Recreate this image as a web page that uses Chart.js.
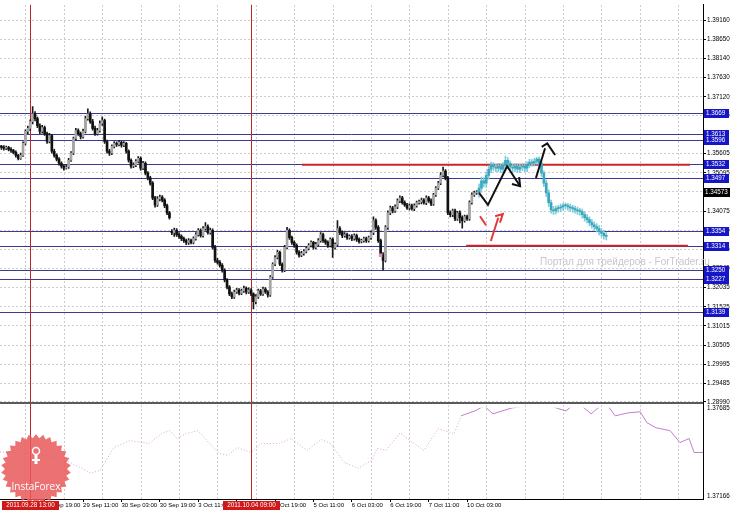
<!DOCTYPE html>
<html>
<head>
<meta charset="utf-8">
<script src="https://cdn.jsdelivr.net/npm/chart.js@4.4.0/dist/chart.umd.min.js"></script>
<style>
  html, body { margin: 0; padding: 0; background: #fff; }
  canvas { display: block; }
</style>
</head>
<body>
<canvas id="grafico" width="730" height="510"></canvas>
<script>
// EURUSD H1 - prices written as pips above 1.3000
const BASE = 1.3;

const opens = [
  583,580,577,575,577,572,569,564,556,548, 556,588,620,628,646,667,654,635,620,630,
  614,593,609,567,556,546,535,527,522,525, 543,562,601,622,614,606,620,654,667,646,
  628,614,622,641,649,593,567,562,580,588, 585,591,583,588,567,543,527,530,540,548,
  522,535,509,496,482,443,424,440,445,437, 422,403,352,350,356,345,340,334,329,324,
  329,324,334,345,356,342,361,366,350,356, 311,276,271,263,250,224,205,187,179,192,
  197,189,195,202,192,197,187,166,179,195, 187,200,192,184,232,266,284,298,266,250,
  311,356,337,324,316,298,290,295,300,308, 316,324,311,319,329,345,329,324,316,332,
  311,319,361,350,342,345,337,340,334,342, 332,327,329,334,329,337,350,382,364,329,
  292,276,364,403,416,408,419,435,443,430, 424,416,422,414,422,430,432,437,430,443,
  435,427,451,469,482,503,514,496,403,398, 408,387,403,390,382,393,387,430,451,456
];
const highs = [
  587,583,582,581,580,577,572,568,559,562, 592,624,634,651,686,673,658,640,636,634,
  618,615,612,572,560,550,539,531,531,548, 566,605,628,627,618,626,660,680,672,652,
  634,628,648,659,653,597,572,584,593,592, 596,595,593,591,571,547,536,545,553,552,
  540,539,513,500,486,447,446,450,449,441, 426,407,358,362,361,350,344,338,333,334,
  333,339,350,361,360,366,377,371,362,360, 316,282,276,268,254,228,209,192,197,202,
  201,200,208,206,203,201,190,185,200,199, 205,204,196,236,270,289,303,301,270,316,
  364,360,341,328,320,302,300,305,312,321, 328,327,324,334,350,349,333,328,336,336,
  323,382,366,355,350,349,344,345,347,346, 336,333,338,338,341,355,392,387,369,333,
  297,369,408,421,420,424,440,448,447,435, 428,427,426,427,434,437,442,441,448,447,
  440,455,473,487,510,525,518,500,408,413, 413,407,408,395,397,397,435,456,461,462
];
const lows = [
  576,572,570,571,568,564,560,551,544,545, 553,584,614,622,640,648,630,614,615,609,
  588,589,562,551,541,530,522,517,519,521, 540,558,597,609,600,602,616,650,641,623,
  609,610,618,636,588,562,556,558,576,580, 581,578,579,562,538,522,523,526,536,517,
  518,504,491,477,438,418,420,435,432,417, 398,386,345,340,340,335,329,324,318,319,
  320,320,330,341,338,338,357,346,346,306, 271,266,258,245,219,200,182,174,175,188,
  184,185,191,187,188,182,147,160,175,183, 183,188,178,180,228,262,280,262,245,246,
  307,332,319,311,293,285,286,290,296,304, 312,306,307,315,325,324,319,311,312,284,
  306,315,345,337,338,332,333,329,330,327, 322,323,325,324,325,332,345,359,324,287,
  250,272,359,398,403,404,414,430,426,420, 412,411,410,409,418,426,427,426,425,431,
  422,423,447,465,478,499,491,398,392,393, 382,383,376,362,378,383,383,426,447,452
];
const closes = [
  580,577,575,577,572,569,564,556,548,556, 588,620,628,646,667,654,635,620,630,614,
  593,609,567,556,546,535,527,522,525,543, 562,601,622,614,606,620,654,667,646,628,
  614,622,641,649,593,567,562,580,588,585, 591,583,588,567,543,527,530,540,548,522,
  535,509,496,482,443,424,440,445,437,422, 403,390,350,356,345,340,334,329,324,329,
  324,334,345,356,342,361,366,350,356,311, 276,271,263,250,224,205,187,179,192,197,
  189,195,202,192,197,187,166,179,195,187, 200,192,184,232,266,284,298,266,250,311,
  356,337,324,316,298,290,295,300,308,316, 324,311,319,329,345,329,324,316,332,311,
  319,361,350,342,345,337,340,334,342,332, 327,329,334,329,337,350,382,364,329,292,
  276,364,403,416,408,419,435,443,430,424, 416,422,414,422,430,432,437,430,443,435,
  427,451,469,482,503,514,496,403,398,408, 387,403,390,382,393,387,430,451,456,457
];

// forecast bars (cyan), they follow the last real bar
const fcOpens = [
  457,469,488,482,503,519,530,525,522,527, 519,530,543,535,525,522,527,519,525,527,
  522,532,538,535,540,546,535,509,482,456, 430,411,408,414,416,419,422,422,419,416,
  414,411,408,406,398,390,385,377,371,366, 361,353,348,342
];
const fcHighs = [
  480,498,497,512,528,538,537,532,535,534, 537,554,550,541,532,534,533,532,534,533,
  539,546,545,548,551,552,541,515,490,464, 437,420,421,423,426,428,429,428,426,423,
  421,418,415,413,405,398,392,385,379,374, 369,361,356,350
];
const fcLows = [
  445,458,472,471,493,510,516,513,513,510, 510,521,526,516,513,513,510,510,516,513,
  513,524,527,527,532,526,500,473,446,420, 402,399,400,405,407,410,413,410,407,405,
  402,399,397,389,381,376,368,362,357,352, 344,339,333,331
];
const fcCloses = [
  469,488,482,503,519,530,525,522,527,519, 530,543,535,525,522,527,519,525,527,522,
  532,538,535,540,546,535,509,482,456,430, 411,408,414,416,419,422,422,419,416,414,
  411,408,406,398,390,385,377,371,366,361, 353,348,342,340
];

// support / resistance levels
const levels = [1.3669, 1.3613, 1.3596, 1.3532, 1.3497, 1.3354, 1.3314, 1.3250, 1.3227, 1.3139];
const levelLabels = ['1.3669', '1.3613', '1.3596', '1.3532', '1.3497', '1.3354', '1.3314', '1.3250', '1.3227', '1.3139'];
const lastPrice = 1.34573;
const lastPriceLabel = '1.34573';

// red horizontal lines (bar index from / to, price)
const redFrom = [126.2, 194.6];
const redTo = [287.9, 287.0];
const redPrice = [1.3531, 1.3315];

// hand drawn arrows, [bar index, price]
const blackStrokes = [
  [[200, 1.3456], [203.7, 1.3424], [211.7, 1.3527], [217.1, 1.3474]],
  [[213.7, 1.3480], [217.1, 1.3474], [216.7, 1.3498]],
  [[223.7, 1.3496], [227.5, 1.3575]],
  [[226.1, 1.3579], [228.4, 1.3588], [231.7, 1.3557]]
];
const redStrokes = [
  [[200.4, 1.3394], [202.9, 1.3370]],
  [[204.9, 1.3328], [208.0, 1.3390]],
  [[206.7, 1.3394], [209.9, 1.3400], [208.7, 1.3377]]
];

// right axis and time axis
const priceTicks = ['1.39160', '1.38650', '1.38140', '1.37630', '1.37120', '1.36625', '1.36115', '1.35605',
  '1.35095', '1.34585', '1.34075', '1.33565', '1.33055', '1.32545', '1.32035', '1.31525', '1.31015',
  '1.30505', '1.29995', '1.29485', '1.28990'];
const timeTickIdx = [19, 35, 51, 67, 83, 99, 115, 131, 147, 163, 179, 195];
const timeTickLabels = ['28 Sep 19:00', '29 Sep 11:00', '30 Sep 03:00', '30 Sep 19:00', '3 Oct 11:00', '4 Oct 03:00',
  '4 Oct 19:00', '5 Oct 11:00', '6 Oct 03:00', '6 Oct 19:00', '7 Oct 11:00', '10 Oct 03:00'];
const gridIdx = [11.2, 27.2, 43.2, 59.2, 75.2, 91.2, 107.2, 123.2, 139.2, 155.2, 171.2, 187.2, 203.2, 219.2, 235.2, 251.2, 267.2, 283.2];
const markerIdx = [13, 105];
const markerLabels = ['2011.09.28 13:00', '2011.10.04 09:00'];

// lower window indicator
const oscIdx = [0.4, 12.1, 20, 29.6, 38.3, 42.1, 47.9, 54.6, 62.5, 68.3, 71.2, 74.2, 77.9, 82.9, 85.8,
  91.6, 95.4, 99.2, 105, 109.2, 116.7, 121.7, 128.3, 134.2, 138.3, 143.7, 149.6, 155.4, 157.5, 161.2,
  167.1, 171.2, 177.1, 182.9, 189.6, 192.5, 198.3, 202.1, 205.8, 213.7, 219.6, 225.4, 233.3, 236.2, 240.8,
  246.7, 252.5, 256.7, 262.1, 267.1, 270, 273.7, 279.6, 283.7, 287.5, 289.6, 293.3];
const oscVals = [1.37422, 1.37415, 1.37404, 1.37366, 1.37307, 1.37323, 1.37447, 1.37485, 1.37469, 1.37528,
  1.37539, 1.37496, 1.37523, 1.37539, 1.37496, 1.37415, 1.37404, 1.37447, 1.37420, 1.37469,
  1.37469, 1.37496, 1.37431, 1.37490, 1.37469, 1.37366, 1.37334, 1.37377, 1.37442, 1.37431,
  1.37528, 1.37485, 1.37431, 1.37550, 1.37523, 1.37620, 1.37647, 1.37674, 1.37631, 1.37663,
  1.37674, 1.37696, 1.37658, 1.37647, 1.37696, 1.37631, 1.37696, 1.37620, 1.37636, 1.37642,
  1.37582, 1.37555, 1.37539, 1.37474, 1.37496, 1.37420, 1.37420];
const oscSolidFrom = 192.5;
const oscTop = 1.37685;
const oscBottom = 1.37166;

const watermark = 'Портал для трейдеров - ForTrader.ru';

// ---------------------------------------------------------------
const px = v => BASE + v / 10000;
const FONT = 'Liberation Sans';

const wicks = closes.map((c, i) => ({ x: i, y: [px(lows[i]), px(highs[i])] }));
const bodies = closes.map((c, i) => ({ x: i, y: [px(opens[i]), px(c)] }));
const bodyColors = closes.map((c, i) => c >= opens[i] ? '#a6a6a6' : '#111111');

const fcStart = closes.length;
const fcWicks = fcCloses.map((c, i) => ({ x: fcStart + i, y: [px(fcLows[i]), px(fcHighs[i])] }));
const fcBodies = fcCloses.map((c, i) => ({ x: fcStart + i, y: [px(fcOpens[i]), px(c)] }));

const clipMain = { left: 0, top: 0, right: 0, bottom: -97 };  // keep to the upper window
const clipOsc = { left: 0, top: -403, right: 0, bottom: 0 };  // keep to the lower window

const oscPoints = oscIdx.map((x, i) => ({ x, y: oscVals[i] }));

const datasets = [];

blackStrokes.forEach(s => datasets.push({
  type: 'line', data: s.map(p => ({ x: p[0], y: p[1] })), borderColor: '#111', borderWidth: 2,
  pointRadius: 0, order: 0, clip: clipMain
}));
redStrokes.forEach(s => datasets.push({
  type: 'line', data: s.map(p => ({ x: p[0], y: p[1] })), borderColor: '#e23a3a', borderWidth: 2,
  pointRadius: 0, order: 0, clip: clipMain
}));

datasets.push(
  { type: 'bar', data: bodies, backgroundColor: bodyColors, barThickness: 2, minBarLength: 1, grouped: false, order: 2, clip: clipMain },
  { type: 'bar', data: wicks, backgroundColor: '#1a1a1a', barThickness: 1, grouped: false, order: 3, clip: clipMain },
  { type: 'bar', data: fcBodies, backgroundColor: '#3aa7bd', barThickness: 2, minBarLength: 1, grouped: false, order: 2, clip: clipMain },
  { type: 'bar', data: fcWicks, backgroundColor: '#7ccbd9', barThickness: 1, grouped: false, order: 3, clip: clipMain },
  { type: 'scatter', data: [{ x: 159, y: 1.3290 }], pointStyle: 'rect', pointRadius: 2.5, backgroundColor: '#e68ab8', borderWidth: 0, order: 1, clip: clipMain }
);

redPrice.forEach((p, k) => datasets.push({
  type: 'line', data: [{ x: redFrom[k], y: p }, { x: redTo[k], y: p }], borderColor: '#c8262b',
  borderWidth: 2, pointRadius: 0, order: 4, clip: clipMain
}));

datasets.push(
  { type: 'line', yAxisID: 'y2', data: oscPoints.filter(p => p.x <= oscSolidFrom), borderColor: '#dba2dc',
    borderWidth: 1, borderDash: [1, 2], pointRadius: 0, order: 5, clip: clipOsc },
  { type: 'line', yAxisID: 'y2', data: oscPoints.filter(p => p.x >= oscSolidFrom), borderColor: '#c27fca',
    borderWidth: 1, pointRadius: 0, order: 5, clip: clipOsc }
);

function dibujarLogo(ctx, cx, cy) {
  ctx.save();
  ctx.globalAlpha = 0.85;
  ctx.fillStyle = '#e9585a';
  ctx.beginPath();
  const n = 30;
  for (let k = 0; k < n * 2; k++) {
    const r = k % 2 ? 31 : 35;
    const ang = k * Math.PI / n - Math.PI / 2;
    const xx = cx + r * Math.cos(ang), yy = cy + r * Math.sin(ang);
    if (k === 0) ctx.moveTo(xx, yy); else ctx.lineTo(xx, yy);
  }
  ctx.closePath();
  ctx.fill();
  ctx.globalAlpha = 1;
  ctx.fillStyle = '#fff';
  ctx.strokeStyle = '#fff';
  ctx.lineWidth = 1.5;
  ctx.beginPath();
  ctx.arc(cx, cy - 18, 3.5, 0, Math.PI * 2);
  ctx.stroke();
  ctx.fillRect(cx - 1.5, cy - 14, 3, 9);
  ctx.fillRect(cx - 4, cy - 10, 8, 2);
  ctx.font = '10px "Open Sans"';
  ctx.textAlign = 'center';
  ctx.textBaseline = 'middle';
  ctx.fillText('InstaForex', cx, cy + 18);
  ctx.restore();
}

const dibujosExtra = {
  id: 'dibujosExtra',
  beforeDatasetsDraw(chart) {
    const { ctx, chartArea: a, scales: { x, y } } = chart;
    ctx.save();
    // watermark
    ctx.font = '10px "' + FONT + '"';
    ctx.fillStyle = '#c8c8c8';
    ctx.textBaseline = 'middle';
    ctx.fillText(watermark, a.right - 163, 262);
    // levels
    ctx.lineWidth = 1;
    ctx.strokeStyle = '#3a3a94';
    levels.forEach(l => {
      const py = Math.round(y.getPixelForValue(l)) + 0.5;
      ctx.beginPath(); ctx.moveTo(a.left, py); ctx.lineTo(a.right, py); ctx.stroke();
    });
    // vertical time markers
    ctx.fillStyle = '#b82626';
    markerIdx.forEach(i => {
      const pxX = Math.round(x.getPixelForValue(i));
      ctx.fillRect(pxX, a.top, 1, a.bottom - a.top);
    });
    ctx.restore();
  },
  afterDatasetsDraw(chart) {
    const { ctx, chartArea: a, scales: { y2 } } = chart;
    const sep = Math.round(y2.getPixelForValue(oscTop));
    ctx.save();
    ctx.fillStyle = '#5a5a5a';
    ctx.fillRect(a.left, sep - 2, a.right - a.left, 2);
    ctx.restore();
  },
  afterDraw(chart) {
    const { ctx, chartArea: a, scales: { x, y, y2 } } = chart;
    ctx.save();
    ctx.font = '6.3px "' + FONT + '"';
    ctx.textBaseline = 'middle';
    ctx.textAlign = 'left';

    // indicator scale labels
    ctx.fillStyle = '#000';
    ctx.fillText('1.37685', a.right + 4, y2.getPixelForValue(oscTop) + 4);
    ctx.fillText('1.37166', a.right + 4, a.bottom - 3);

    // level boxes
    levels.forEach((l, k) => {
      const py = Math.round(y.getPixelForValue(l));
      ctx.fillStyle = '#1616c6';
      ctx.fillRect(a.right + 1, py - 4, 25, 9);
      ctx.fillStyle = '#fff';
      ctx.fillText(levelLabels[k], a.right + 3, py + 0.5);
    });
    const pl = Math.round(y.getPixelForValue(lastPrice));
    ctx.fillStyle = '#000';
    ctx.fillRect(a.right + 1, pl - 4, 26, 9);
    ctx.fillStyle = '#fff';
    ctx.fillText(lastPriceLabel, a.right + 2, pl + 0.5);

    // logo
    dibujarLogo(ctx, 36, 469);

    // time marker labels
    ctx.textAlign = 'center';
    markerIdx.forEach((i, k) => {
      const pxX = Math.round(x.getPixelForValue(i));
      ctx.fillStyle = '#d01818';
      ctx.fillRect(pxX - 28, a.bottom + 2, 57, 9);
      ctx.fillStyle = '#fff';
      ctx.fillText(markerLabels[k], pxX + 0.5, a.bottom + 6.5);
    });
    ctx.restore();
  }
};

new Chart(document.getElementById('grafico'), {
  type: 'bar',
  data: { datasets },
  options: {
    responsive: false,
    animation: false,
    devicePixelRatio: 1,
    layout: { padding: 0, autoPadding: false },
    plugins: { legend: { display: false }, tooltip: { enabled: false } },
    scales: {
      x: {
        type: 'linear', position: 'bottom', min: 0.4, max: 293.3, offset: false,
        afterBuildTicks: s => { s.ticks = timeTickIdx.map(v => ({ value: v })); },
        afterFit: s => { s.height = 11; },
        ticks: {
          autoSkip: false, maxRotation: 0, minRotation: 0, align: 'start', padding: 0, color: '#000',
          font: { family: FONT, size: 6 }, callback: (v, i) => timeTickLabels[i]
        },
        grid: { drawOnChartArea: false, drawTicks: true, tickLength: 3, tickColor: '#000', offset: false },
        border: { display: true, color: '#000' }
      },
      xg: {
        type: 'linear', position: 'top', min: 0.4, max: 293.3, offset: false,
        afterBuildTicks: s => { s.ticks = gridIdx.map(v => ({ value: v })); },
        afterFit: s => { s.height = 0; },
        ticks: { display: false },
        grid: { color: '#cdcdcd', drawTicks: false, offset: false },
        border: { display: false, dash: [2, 2] }
      },
      y: {
        type: 'linear', position: 'right', min: 1.264016, max: 1.395752,
        afterBuildTicks: s => { s.ticks = priceTicks.map(t => ({ value: parseFloat(t) })); },
        afterFit: s => { s.width = 27; },
        ticks: {
          autoSkip: false, padding: 1, color: '#000', font: { family: FONT, size: 6.3 },
          callback: (v, i) => priceTicks[i]
        },
        grid: { color: '#cdcdcd', tickLength: 3, tickColor: '#000' },
        border: { color: '#000', dash: [2, 2] }
      },
      y2: { type: 'linear', display: false, min: oscBottom, max: 1.398637 }
    }
  },
  plugins: [dibujosExtra]
});
</script>
</body>
</html>
